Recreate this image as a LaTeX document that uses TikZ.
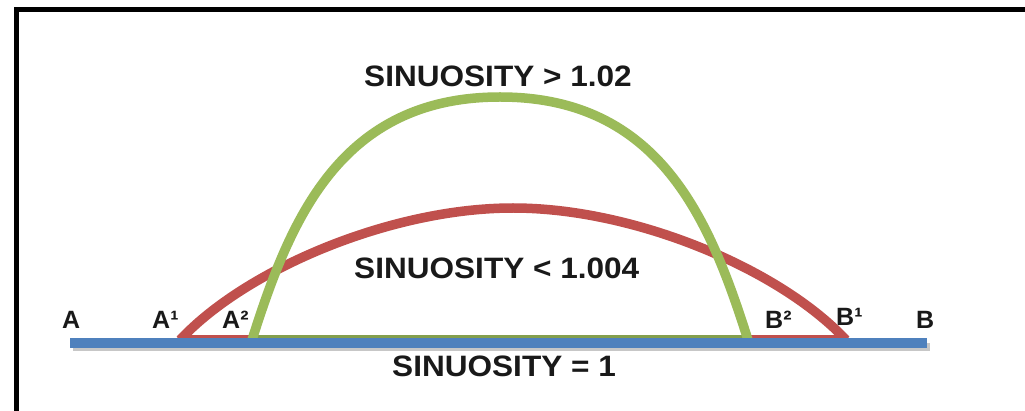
\documentclass[tikz,border=0pt]{standalone}
\usepackage{fontspec}
\setmainfont{Liberation Sans}
\newfontfamily\bigfont[FakeStretch=1.07]{Liberation Sans}
\definecolor{ored}{HTML}{C0504D}
\definecolor{ogreen}{HTML}{9BBB59}
\definecolor{oblue}{HTML}{4F81BD}
\tikzset{
  frame/.style={line width=5pt, black},
  arcline/.style={line width=9.5pt, line cap=butt},
  baseline/.style={line width=3pt},
  bigtext/.style={font=\bigfont\fontsize{29.5}{30}\selectfont\bfseries, inner sep=0pt, anchor=base west, text=black!90},
  ptlabel/.style={font=\fontsize{25}{26}\selectfont\bfseries, inner sep=0pt, anchor=base west, text=black!90},
}
\begin{document}
\begin{tikzpicture}[x=1pt,y=-1pt]
\useasboundingbox (0,0) rectangle (1025,411);
\fill[white] (0,0) rectangle (1025,411);
% frame
\coordinate (fbl) at (16,411);
\coordinate (ftl) at (16,9.2);
\coordinate (ftr) at (1025,9.2);
\draw[frame] (fbl) -- (ftl) -- (ftr);
% feet
\coordinate (A) at (70,343);
\coordinate (B) at (927,343);
\coordinate (A1) at (180,340);
\coordinate (B1) at (846,340);
\coordinate (A2) at (252,340);
\coordinate (B2) at (748,340);
\coordinate (redtop) at (513,208);
\coordinate (greentop) at (500,97);
% red
\draw[baseline, ored] (180,336.5) -- (846,336.5);
\draw[arcline, ored] (A1) .. controls (245,270) and (390,208) .. (redtop)
      .. controls (636,208) and (781,270) .. (B1);
% green
\draw[baseline, ogreen!85!black] (252,336.5) -- (748,336.5);
\draw[arcline, ogreen] (A2) .. controls (290,220) and (340,97) .. (greentop)
      .. controls (660,97) and (710,220) .. (B2);
% blue line with shadow
\draw[line width=8pt, black!22] (73,347.5) -- (930,347.5);
\draw[line width=10pt, oblue] (A) -- (B);
% texts
\node[bigtext] (t1) at (364,87) {SINUOSITY > 1.02};
\node[bigtext] (t2) at (354,279) {SINUOSITY < 1.004};
\node[bigtext] (t3) at (392,377) {SINUOSITY = 1};
\node[ptlabel] (lA) at (62,329) {A};
\node[ptlabel] (lA1) at (152,329) {A¹};
\node[ptlabel] (lA2) at (222,329) {A²};
\node[ptlabel] (lB2) at (765,329) {B²};
\node[ptlabel] (lB1) at (836,326) {B¹};
\node[ptlabel] (lB) at (916,329) {B};
\end{tikzpicture}
\end{document}
